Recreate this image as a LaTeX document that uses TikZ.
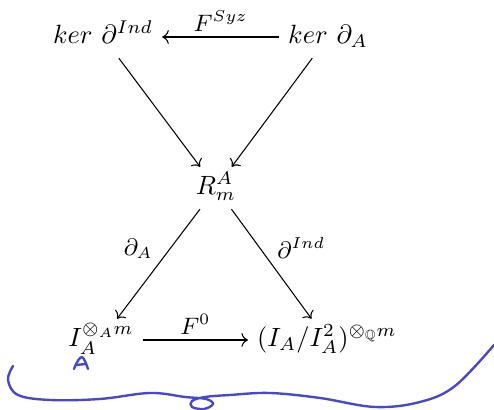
\documentclass[tikz,border=0pt]{standalone}
\usepackage{amsmath,amssymb}
\usepackage{tikz}
\usetikzlibrary{arrows.meta, positioning}

\definecolor{pen}{RGB}{72,72,205}

\begin{document}
\begin{tikzpicture}[
  x=0.0133cm, y=-0.0133cm,
  obj/.style={inner sep=3.3pt, text height=1.6ex, text depth=0.5ex},
  lbl/.style={font=\small, inner sep=2pt},
  ink/.style={draw=pen, line width=0.9pt, line cap=round, line join=round},
  >=To
]
\useasboundingbox (0,0) rectangle (494,410);

\node[obj] (kerI) at (103,37)  {$ker\ \partial^{Ind}$};
\node[obj] (kerA) at (328,37)  {$ker\ \partial_A$};
\node[obj] (R)    at (216,188) {$R_m^A$};
\node[obj] (IA)   at (101,340) {$I_A^{\otimes_A m}$};
\node[obj] (Q)    at (327,340) {$(I_A/I_A^2)^{\otimes_{\mathbb{Q}} m}$};

\draw[->] (kerA) -- node[above, lbl]{$F^{Syz}$} (kerI);
\draw[->] (kerI) -- (R);
\draw[->] (kerA) -- (R);
\draw[->] (R)    -- node[above left, lbl]{$\partial_A$}    (IA);
\draw[->] (R)    -- node[above right, lbl]{$\partial^{Ind}$} (Q);
\draw[->] (IA)   -- node[above, lbl]{$F^0$} (Q);

% handwritten marks
\draw[ink] (74,369) .. controls (77,361) and (80,357) .. (82,357)
           .. controls (84,358) and (86,363) .. (88,369);
\draw[ink] (76,365) -- (86,364);
\draw[ink] plot[smooth, tension=0.6] coordinates {
  (13,366) (8,380) (18,395) (50,400) (100,399) (150,393) (185,397)
  (206,399) (213,404) (204,409) (192,407) (192,401) (205,397)
  (230,395) (270,393) (320,398) (375,407) (420,402) (455,386) (494,345)};
\end{tikzpicture}
\end{document}
